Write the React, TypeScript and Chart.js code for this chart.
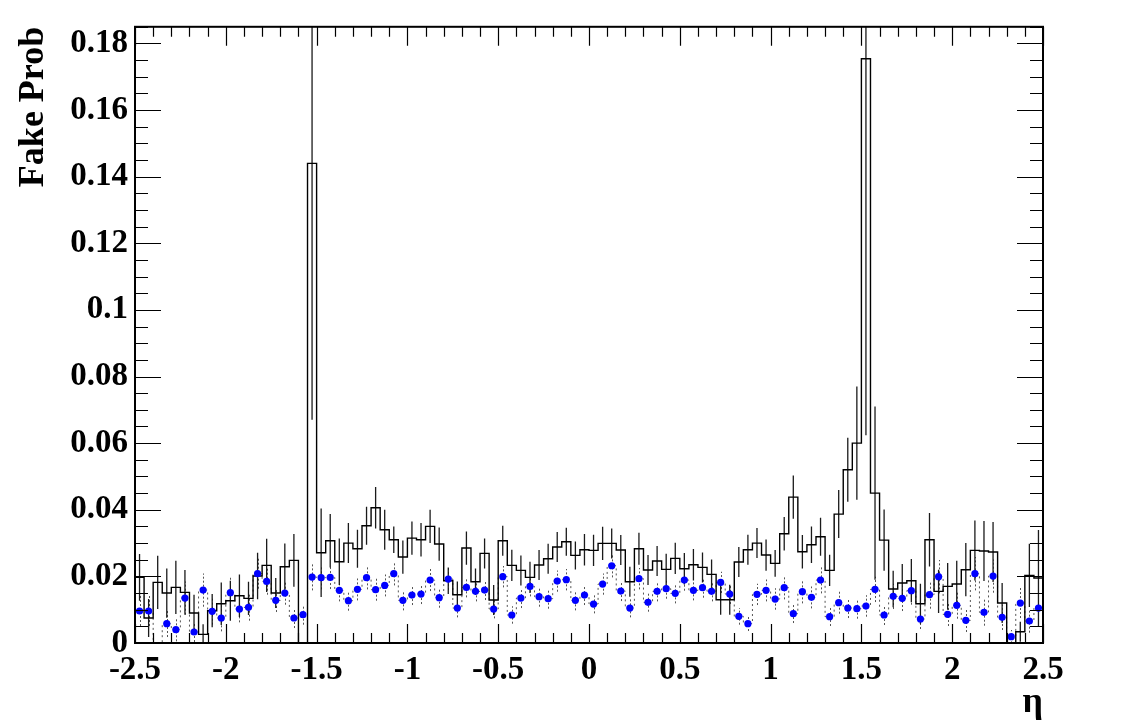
import React, { useEffect, useRef } from 'react';
import { Chart, registerables } from 'chart.js';

Chart.register(...registerables);

// ---- axis definition ----
const X_MIN = -2.5;
const X_MAX = 2.5;
const BIN_WIDTH = 0.05;
const Y_MIN = 0;
const Y_MAX = 0.185;

const xTickValues = [-2.5, -2, -1.5, -1, -0.5, 0, 0.5, 1, 1.5, 2, 2.5];
const yTickValues = [0, 0.02, 0.04, 0.06, 0.08, 0.1, 0.12, 0.14, 0.16, 0.18];

const xAxisTitle = 'η';
const yAxisTitle = 'Fake Prob';

// ---- histogram (black solid) ----
const histValues = [
  0.0197, 0.0075, 0.0182, 0.0150, 0.0167, 0.0152, 0.0090, 0.0026, 0.0097, 0.0118,
  0.0127, 0.0142, 0.0134, 0.0201, 0.0233, 0.0150, 0.0229, 0.0248, 0.0000, 0.1440,
  0.0271, 0.0307, 0.0244, 0.0300, 0.0283, 0.0352, 0.0406, 0.0340, 0.0310, 0.0258,
  0.0315, 0.0310, 0.0350, 0.0297, 0.0187, 0.0145, 0.0285, 0.0184, 0.0269, 0.0129,
  0.0307, 0.0233, 0.0218, 0.0197, 0.0234, 0.0253, 0.0288, 0.0304, 0.0263, 0.0280,
  0.0278, 0.0299, 0.0299, 0.0279, 0.0184, 0.0283, 0.0219, 0.0246, 0.0221, 0.0254,
  0.0223, 0.0235, 0.0227, 0.0206, 0.0130, 0.0130, 0.0243, 0.0280, 0.0300, 0.0264,
  0.0239, 0.0328, 0.0438, 0.0274, 0.0295, 0.0319, 0.0218, 0.0387, 0.0520, 0.0600,
  0.1754, 0.0450, 0.0309, 0.0162, 0.0180, 0.0187, 0.0118, 0.0310, 0.0155, 0.0170,
  0.0177, 0.0220, 0.0278, 0.0276, 0.0273, 0.0120, 0.0000, 0.0034, 0.0203, 0.0195,
];

const histErrors = [
  0.0070, 0.0057, 0.0080, 0.0074, 0.0080, 0.0067, 0.0055, 0.0030, 0.0050, 0.0064,
  0.0060, 0.0064, 0.0050, 0.0070, 0.0080, 0.0045, 0.0070, 0.0079, 0.0000, 0.0770,
  0.0133, 0.0080, 0.0070, 0.0060, 0.0057, 0.0057, 0.0062, 0.0060, 0.0040, 0.0050,
  0.0050, 0.0050, 0.0050, 0.0050, 0.0040, 0.0040, 0.0050, 0.0040, 0.0045, 0.0045,
  0.0045, 0.0047, 0.0045, 0.0047, 0.0045, 0.0045, 0.0045, 0.0042, 0.0042, 0.0047,
  0.0047, 0.0050, 0.0045, 0.0045, 0.0045, 0.0048, 0.0045, 0.0045, 0.0047, 0.0047,
  0.0047, 0.0047, 0.0045, 0.0045, 0.0045, 0.0045, 0.0045, 0.0045, 0.0045, 0.0047,
  0.0040, 0.0050, 0.0065, 0.0050, 0.0055, 0.0057, 0.0047, 0.0072, 0.0096, 0.0170,
  0.1130, 0.0260, 0.0092, 0.0055, 0.0057, 0.0065, 0.0060, 0.0080, 0.0065, 0.0070,
  0.0070, 0.0080, 0.0090, 0.0090, 0.0090, 0.0060, 0.0000, 0.0030, 0.0095, 0.0144,
];

// ---- second histogram (blue markers, dotted outline) ----
const markerValues = [
  0.0096, 0.0096, 0.0000, 0.0058, 0.0040, 0.0135, 0.0033, 0.0159, 0.0095, 0.0075,
  0.0151, 0.0102, 0.0107, 0.0208, 0.0185, 0.0128, 0.0150, 0.0075, 0.0085, 0.0198,
  0.0196, 0.0197, 0.0158, 0.0127, 0.0161, 0.0196, 0.0160, 0.0173, 0.0208, 0.0128,
  0.0144, 0.0147, 0.0189, 0.0136, 0.0192, 0.0105, 0.0167, 0.0155, 0.0159, 0.0102,
  0.0199, 0.0084, 0.0135, 0.0170, 0.0139, 0.0133, 0.0186, 0.0190, 0.0128, 0.0144,
  0.0117, 0.0177, 0.0232, 0.0156, 0.0105, 0.0193, 0.0122, 0.0155, 0.0163, 0.0149,
  0.0189, 0.0158, 0.0166, 0.0155, 0.0182, 0.0147, 0.0080, 0.0058, 0.0146, 0.0158,
  0.0132, 0.0166, 0.0088, 0.0154, 0.0137, 0.0189, 0.0079, 0.0121, 0.0105, 0.0103,
  0.0111, 0.0161, 0.0084, 0.0140, 0.0134, 0.0157, 0.0072, 0.0145, 0.0199, 0.0086,
  0.0113, 0.0068, 0.0208, 0.0092, 0.0201, 0.0077, 0.0019, 0.0120, 0.0066, 0.0105,
];

const markerErrors = [
  0.0045, 0.0045, 0.0000, 0.0040, 0.0035, 0.0050, 0.0030, 0.0050, 0.0040, 0.0040,
  0.0045, 0.0040, 0.0040, 0.0045, 0.0040, 0.0035, 0.0035, 0.0030, 0.0030, 0.0040,
  0.0035, 0.0035, 0.0033, 0.0030, 0.0033, 0.0035, 0.0033, 0.0033, 0.0035, 0.0030,
  0.0030, 0.0030, 0.0033, 0.0030, 0.0033, 0.0028, 0.0030, 0.0030, 0.0030, 0.0028,
  0.0032, 0.0026, 0.0030, 0.0030, 0.0030, 0.0030, 0.0032, 0.0032, 0.0030, 0.0030,
  0.0028, 0.0032, 0.0035, 0.0030, 0.0028, 0.0032, 0.0028, 0.0030, 0.0030, 0.0030,
  0.0032, 0.0030, 0.0030, 0.0030, 0.0032, 0.0030, 0.0025, 0.0022, 0.0032, 0.0033,
  0.0032, 0.0035, 0.0028, 0.0035, 0.0033, 0.0040, 0.0028, 0.0033, 0.0030, 0.0030,
  0.0032, 0.0038, 0.0030, 0.0038, 0.0038, 0.0042, 0.0030, 0.0042, 0.0050, 0.0035,
  0.0040, 0.0035, 0.0050, 0.0040, 0.0050, 0.0038, 0.0020, 0.0045, 0.0035, 0.0045,
];

// bin edges / centres derived from axis definition
const binLowEdges = histValues.map((_, i) => +(X_MIN + i * BIN_WIDTH).toFixed(3));
const binCenters = binLowEdges.map((e) => +(e + BIN_WIDTH / 2).toFixed(3));

const stepPoints = (vals: number[]) => {
  const pts = vals.map((v, i) => ({ x: binLowEdges[i], y: v }));
  pts.push({ x: X_MAX, y: vals[vals.length - 1] });
  return pts;
};

const FONT_FAMILY = "'Liberation Serif', 'Times New Roman', serif";

const rootStylePlugin = {
  id: 'rootStyle',
  beforeDatasetsDraw(chart: any) {
    const { ctx, chartArea: a, scales } = chart;
    const x = scales.x;
    const y = scales.y;
    ctx.save();
    ctx.beginPath();
    ctx.rect(a.left, a.top, a.right - a.left, a.bottom - a.top);
    ctx.clip();
    // dotted error bars of marker series
    ctx.setLineDash([2, 2]);
    ctx.strokeStyle = '#555555';
    ctx.lineWidth = 1;
    markerValues.forEach((v, i) => {
      const e = markerErrors[i];
      if (!e || v <= 0) return;
      const cx = Math.round(x.getPixelForValue(binCenters[i])) + 0.5;
      ctx.beginPath();
      ctx.moveTo(cx, y.getPixelForValue(v - e));
      ctx.lineTo(cx, y.getPixelForValue(v + e));
      ctx.stroke();
    });
    ctx.setLineDash([]);
    // error bars of solid histogram
    ctx.strokeStyle = '#1a1a1a';
    ctx.lineWidth = 1.3;
    histValues.forEach((v, i) => {
      const e = histErrors[i];
      if (!e) return;
      const cx = x.getPixelForValue(binCenters[i]);
      ctx.beginPath();
      ctx.moveTo(cx, y.getPixelForValue(Math.max(0, v - e)));
      ctx.lineTo(cx, y.getPixelForValue(v + e));
      ctx.stroke();
    });
    ctx.restore();
  },
  afterDraw(chart: any) {
    const { ctx, chartArea: a, scales } = chart;
    const x = scales.x;
    const y = scales.y;
    ctx.save();
    ctx.strokeStyle = '#000000';
    ctx.lineWidth = 1.2;
    // x ticks: minor every 0.1, major every 0.5 (bottom and top, inward)
    for (let k = 0; k <= 50; k++) {
      const v = X_MIN + k * 0.1;
      const px = Math.round(x.getPixelForValue(v)) + 0.5;
      const len = k % 5 === 0 ? 19 : 10;
      ctx.beginPath();
      ctx.moveTo(px, a.bottom);
      ctx.lineTo(px, a.bottom - len);
      ctx.moveTo(px, a.top);
      ctx.lineTo(px, a.top + len);
      ctx.stroke();
    }
    // y ticks: minor every 0.005, major every 0.02 (left and right, inward)
    for (let k = 0; k * 0.005 <= Y_MAX + 1e-9; k++) {
      const v = k * 0.005;
      const py = Math.round(y.getPixelForValue(v)) + 0.5;
      const len = k % 4 === 0 ? 26 : 13;
      ctx.beginPath();
      ctx.moveTo(a.left, py);
      ctx.lineTo(a.left + len, py);
      ctx.moveTo(a.right, py);
      ctx.lineTo(a.right - len, py);
      ctx.stroke();
    }
    // frame
    ctx.lineWidth = 2;
    ctx.strokeRect(a.left, a.top, a.right - a.left, a.bottom - a.top);
    ctx.restore();
  },
};

export default function App() {
  const canvasRef = useRef<HTMLCanvasElement | null>(null);

  useEffect(() => {
    const canvas = canvasRef.current;
    if (!canvas) return;
    const chart = new Chart(canvas, {
      type: 'scatter',
      data: {
        datasets: [
          {
            label: 'markers',
            data: binCenters.map((c, i) => ({ x: c, y: markerValues[i] })),
            showLine: false,
            pointRadius: (ctx: any) => (ctx.raw && ctx.raw.y > 0 ? 3.6 : 0),
            pointBackgroundColor: '#0000ff',
            pointBorderColor: '#0000ff',
            pointBorderWidth: 0,
            order: 0,
          },
          {
            label: 'hist',
            data: stepPoints(histValues),
            showLine: true,
            stepped: 'before',
            borderColor: '#000000',
            borderWidth: 1.4,
            pointRadius: 0,
            fill: false,
            order: 1,
          },
          {
            label: 'markersOutline',
            data: stepPoints(markerValues),
            showLine: true,
            stepped: 'before',
            borderColor: '#555555',
            borderWidth: 1,
            borderDash: [2, 3],
            pointRadius: 0,
            fill: false,
            order: 2,
          },
        ],
      },
      options: {
        animation: false,
        responsive: false,
        events: [],
        layout: { padding: { left: 0, right: 91, top: 19, bottom: 0 } },
        plugins: {
          legend: { display: false },
          tooltip: { enabled: false },
        },
        scales: {
          x: {
            type: 'linear',
            min: X_MIN,
            max: X_MAX,
            grid: { display: false, drawTicks: false },
            border: { display: false },
            afterFit: (s: any) => {
              s.height = 81;
            },
            afterBuildTicks: (s: any) => {
              s.ticks = xTickValues.map((v) => ({ value: v }));
            },
            ticks: {
              autoSkip: false,
              maxRotation: 0,
              minRotation: 0,
              padding: 8,
              color: '#000000',
              font: { family: FONT_FAMILY, size: 33, weight: 'bold' },
              callback: (v: any) => String(v),
            },
            title: {
              display: true,
              text: xAxisTitle,
              align: 'end',
              color: '#000000',
              font: { family: FONT_FAMILY, size: 36, weight: 'bold' },
              padding: { top: 0, bottom: 0 },
            },
          },
          y: {
            type: 'linear',
            min: Y_MIN,
            max: Y_MAX,
            grid: { display: false, drawTicks: false },
            border: { display: false },
            afterFit: (s: any) => {
              s.width = 135;
            },
            afterBuildTicks: (s: any) => {
              s.ticks = yTickValues.map((v) => ({ value: v }));
            },
            ticks: {
              autoSkip: false,
              padding: 7,
              color: '#000000',
              font: { family: FONT_FAMILY, size: 33, weight: 'bold' },
              callback: (v: any) => String(v),
            },
            title: {
              display: true,
              text: yAxisTitle,
              align: 'end',
              color: '#000000',
              font: { family: FONT_FAMILY, size: 36, weight: 'bold' },
              padding: { top: 12, bottom: 0 },
            },
          },
        },
      },
      plugins: [rootStylePlugin],
    });
    return () => chart.destroy();
  }, []);

  return (
    <div style={{ position: 'absolute', left: 0, top: 0, width: 1134, height: 724, background: '#ffffff' }}>
      <canvas ref={canvasRef} width={1134} height={724} style={{ width: 1134, height: 724, display: 'block' }} />
    </div>
  );
}
